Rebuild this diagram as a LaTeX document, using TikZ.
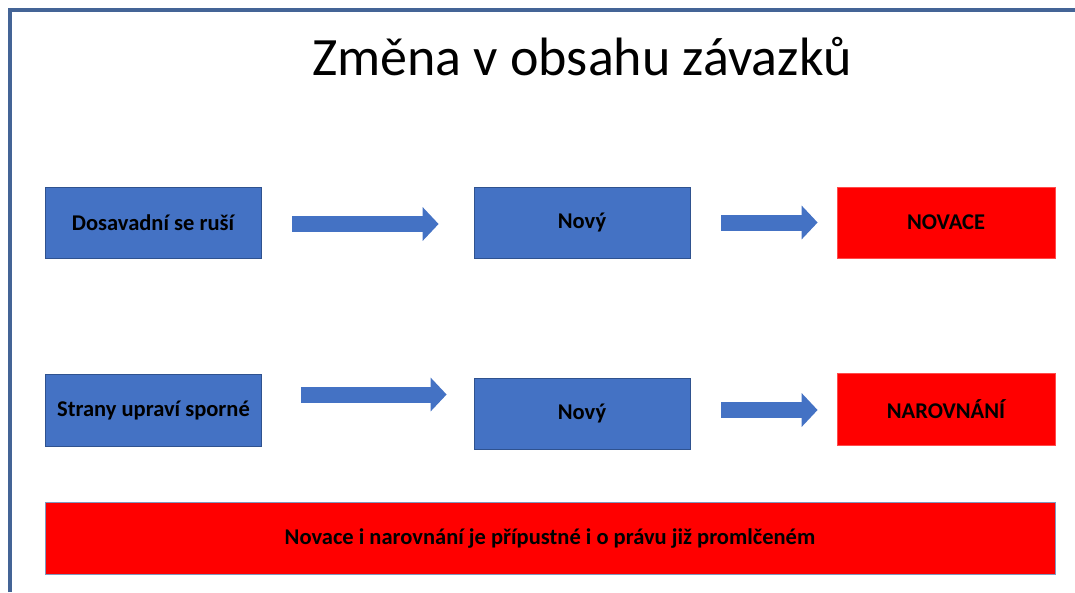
\documentclass[tikz,border=0pt]{standalone}
\usepackage{fontspec}
\setmainfont{Carlito}
\usetikzlibrary{arrows.meta}
\definecolor{boxblue}{RGB}{68,114,196}
\definecolor{edgeblue}{RGB}{47,82,143}
\definecolor{framegray}{RGB}{68,100,150}
\definecolor{boxred}{RGB}{255,0,0}
\begin{document}
\begin{tikzpicture}[x=1pt, y=-1pt,
    bluebox/.style={draw=edgeblue, line width=0.8pt, fill=boxblue, inner sep=0pt, minimum width=216pt, minimum height=71pt, font=\bfseries\fontsize{22.5}{26}\selectfont},
    redbox/.style={draw=boxred!70!white, line width=0.8pt, fill=boxred, inner sep=0pt, minimum width=218pt, minimum height=71pt, font=\bfseries\fontsize{22.5}{26}\selectfont},
    blockarrow/.style={draw=boxblue, line width=16pt, -{Triangle[width=33pt, length=16pt]}}]
    \useasboundingbox (0,0) rectangle (1075,592);
    \draw[framegray, line width=4pt] (9.5,592) -- (9.5,9.5) -- (1075,9.5);
    \node[anchor=base, font=\fontsize{54}{60}\selectfont] (title) at (582,75) {Změna v obsahu závazků};
    \node[bluebox] (dosavadni) at (153,222.5) {Dosavadní se ruší};
    \node[bluebox] (novy1) at (582,222.5) {Nový};
    \node[redbox] (novace) at (946,222.5) {NOVACE};
    \node[bluebox, minimum height=72pt] (sporne) at (153.5,410) {Strany upraví sporné};
    \node[bluebox] (novy2) at (582,413.5) {Nový};
    \node[redbox, minimum height=72pt] (narovnani) at (946,409) {NAROVNÁNÍ};
    \node[redbox, draw=edgeblue!60!white, minimum width=1010pt, minimum height=72pt] (pripustne) at (550,538) {Novace i narovnání je přípustné i o právu již promlčeném};
    \draw[blockarrow] ([xshift=31pt,yshift=-1.5pt]dosavadni.east) -- ([xshift=-35pt,yshift=-1.5pt]novy1.west);
    \draw[blockarrow] ([xshift=31pt]novy1.east) -- ([xshift=-19pt]novace.west);
    \draw[blockarrow] ([xshift=39pt,yshift=15.5pt]sporne.east) -- ([xshift=-27pt,yshift=19pt]novy2.west);
    \draw[blockarrow] ([xshift=31pt,yshift=3.5pt]novy2.east) -- ([xshift=-19pt,yshift=-1pt]narovnani.west);
\end{tikzpicture}
\end{document}
